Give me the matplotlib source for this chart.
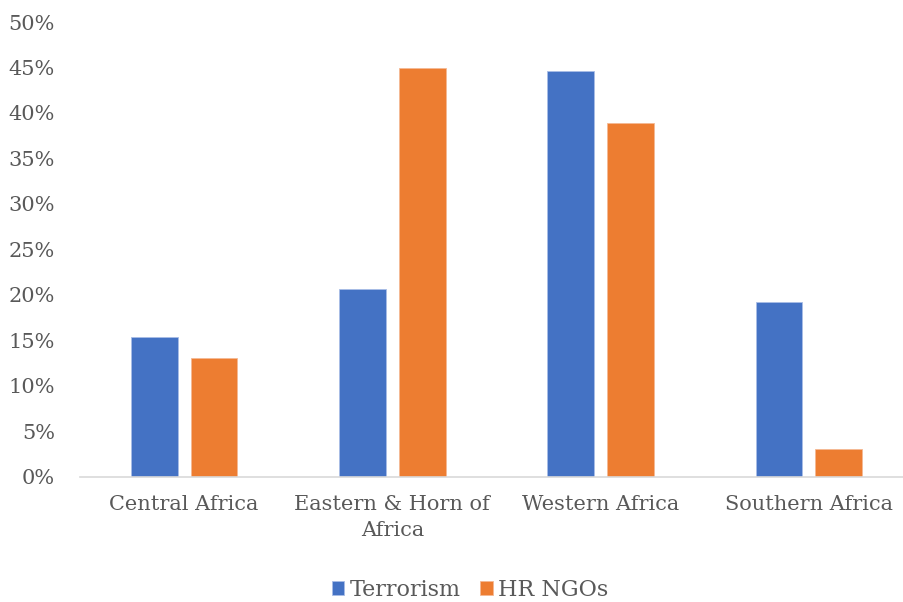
import matplotlib
matplotlib.use("Agg")
import matplotlib.pyplot as plt
from matplotlib.ticker import FuncFormatter
import numpy as np

regions = ["Central Africa", "Eastern & Horn of\nAfrica", "Western Africa", "Southern Africa"]
terrorism = [0.154, 0.206, 0.446, 0.192]
hr_ngos = [0.130, 0.449, 0.389, 0.031]
yticks = [0.0, 0.05, 0.10, 0.15, 0.20, 0.25, 0.30, 0.35, 0.40, 0.45, 0.50]

blue = "#4472C4"
orange = "#ED7D31"
grey = "#595959"
font = ["DejaVu Serif"]

W, H = 904, 602
fig = plt.figure(figsize=(W / 100, H / 100), dpi=100)
# axes spans slightly past the right edge of the canvas
left, bottom, right, top = 80, 125.3, 913, 580
ax = fig.add_axes([left / W, bottom / H, (right - left) / W, (top - bottom) / H])

x = np.arange(len(regions))
bw = 0.224
off = (bw + 0.0625) / 2
ax.bar(x - off, terrorism, width=bw, color=blue, edgecolor="#a9bde6", linewidth=0.6, label="Terrorism")
ax.bar(x + off, hr_ngos, width=bw, color=orange, edgecolor="#f4b994", linewidth=0.6, label="HR NGOs")

ax.set_xlim(-0.5, 3.5)
ax.set_ylim(0, 0.5)
ax.set_yticks(yticks)
ax.yaxis.set_major_formatter(FuncFormatter(lambda v, p: f"{v * 100:.0f}%"))
ax.set_xticks(x)
ax.set_xticklabels(regions)

for s in ["top", "right", "left"]:
    ax.spines[s].set_visible(False)
ax.spines["bottom"].set_color("#d9d9d9")
ax.spines["bottom"].set_linewidth(1.2)
ax.tick_params(axis="both", length=0, colors=grey, labelsize=15)
ax.tick_params(axis="y", pad=18)
ax.tick_params(axis="x", pad=13)
for lab in ax.get_xticklabels() + ax.get_yticklabels():
    lab.set_family(font)
    lab.set_color(grey)
for lab in ax.get_xticklabels():
    lab.set_linespacing(1.5)
    lab.set_verticalalignment("top")

leg = fig.legend(loc="center", bbox_to_anchor=(470 / W, 1 - 590 / H), ncol=2, frameon=False,
                 prop={"family": font, "size": 16}, handlelength=0.55, handleheight=0.55,
                 handletextpad=0.25, columnspacing=0.9, labelcolor=grey)

fig.savefig("out.png", dpi=100, facecolor="white")
